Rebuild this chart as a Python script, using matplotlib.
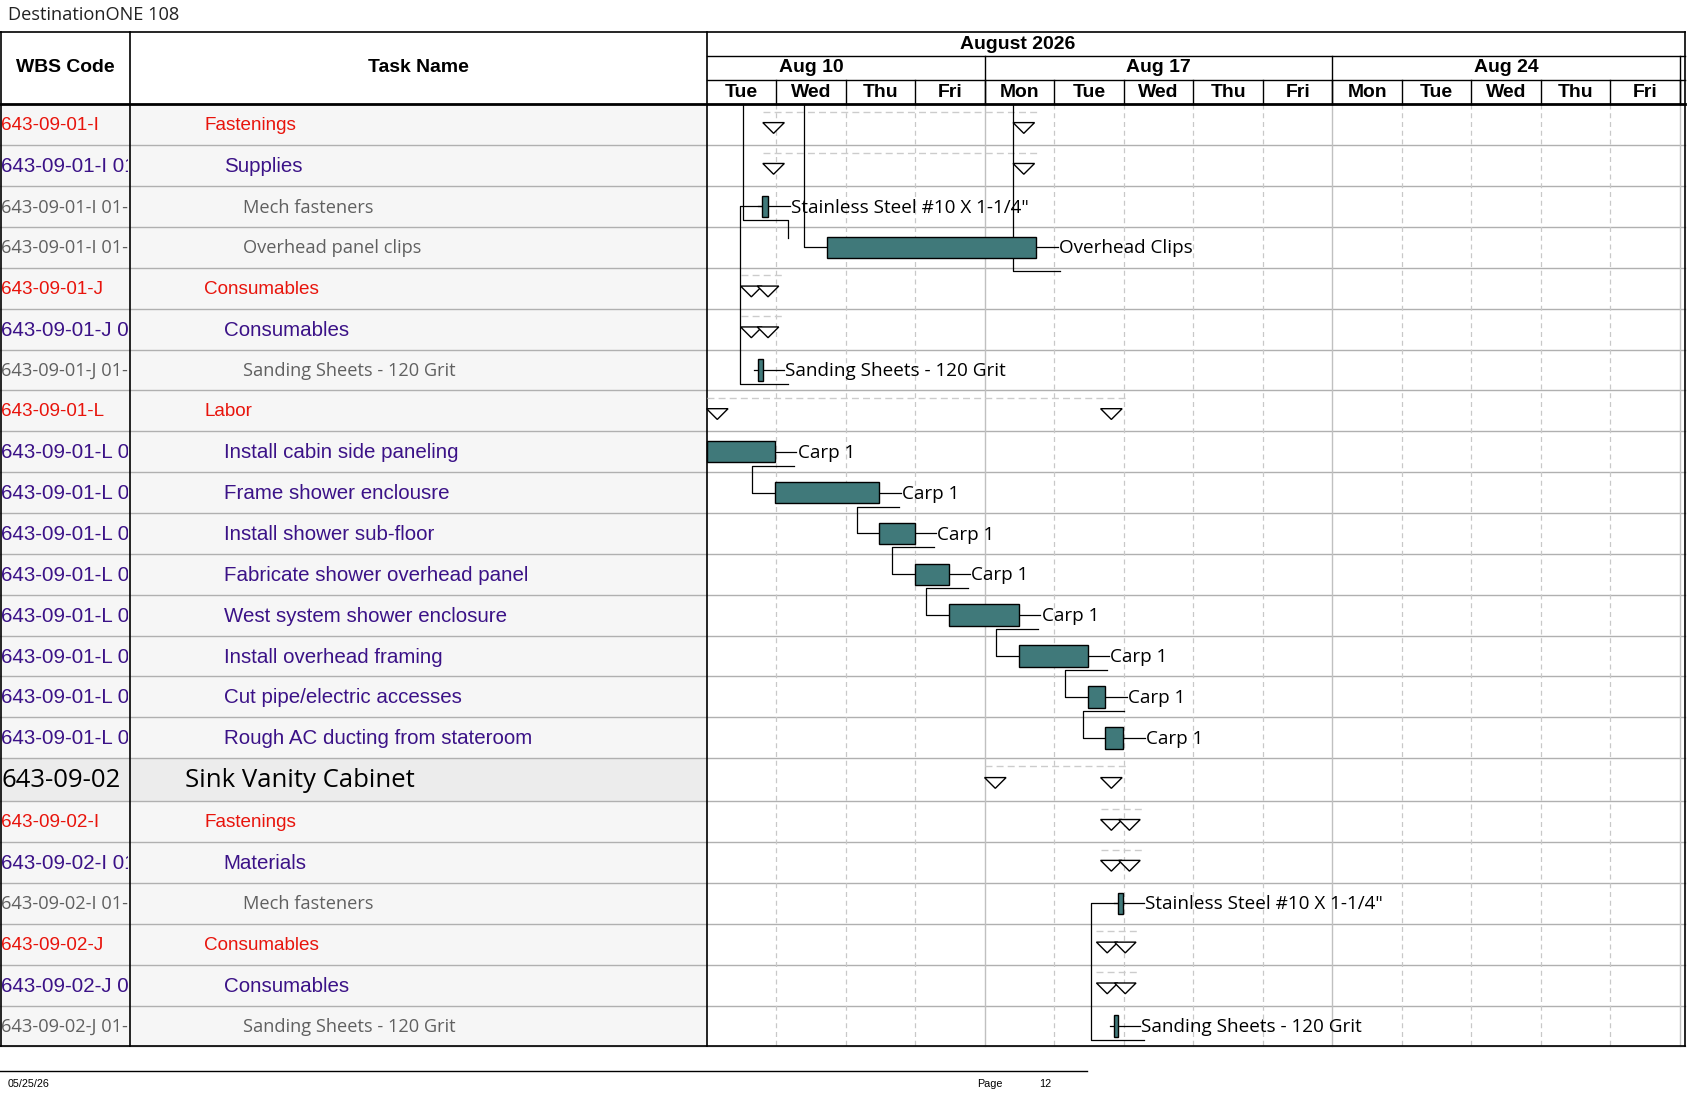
import matplotlib
matplotlib.use("Agg")
import matplotlib.pyplot as plt
from matplotlib.patches import Rectangle, Polygon
from matplotlib.transforms import Bbox, TransformedBbox

# ---------------- data ----------------
wbs = ["643-09-01-I", "643-09-01-I 01", "643-09-01-I 01-01", "643-09-01-I 01-02",
       "643-09-01-J", "643-09-01-J 01", "643-09-01-J 01-01", "643-09-01-L",
       "643-09-01-L 01", "643-09-01-L 02", "643-09-01-L 03", "643-09-01-L 04",
       "643-09-01-L 05", "643-09-01-L 06", "643-09-01-L 07", "643-09-01-L 08",
       "643-09-02", "643-09-02-I", "643-09-02-I 01", "643-09-02-I 01-01",
       "643-09-02-J", "643-09-02-J 01", "643-09-02-J 01-01"]
names = ["Fastenings", "Supplies", "Mech fasteners", "Overhead panel clips",
         "Consumables", "Consumables", "Sanding Sheets - 120 Grit", "Labor",
         "Install cabin side paneling", "Frame shower enclousre", "Install shower sub-floor",
         "Fabricate shower overhead panel", "West system shower enclosure",
         "Install overhead framing", "Cut pipe/electric accesses", "Rough AC ducting from stateroom",
         "Sink Vanity Cabinet", "Fastenings", "Materials", "Mech fasteners",
         "Consumables", "Consumables", "Sanding Sheets - 120 Grit"]
levels = [1, 2, 3, 3, 1, 2, 3, 1, 2, 2, 2, 2, 2, 2, 2, 2, 0, 1, 2, 3, 1, 2, 3]
# start / finish in working days from Tue Aug 11 (summary rows: triangle positions)
starts = [0.96, 0.96, 0.80, 1.73, 0.64, 0.64, 0.74, 0.15, 0.00, 0.98, 2.48, 2.99, 3.48,
          4.49, 5.48, 5.73, 4.15, 5.82, 5.82, 5.92, 5.76, 5.76, 5.86]
finishes = [4.56, 4.56, 0.88, 4.74, 0.88, 0.88, 0.80, 5.82, 0.98, 2.48, 2.99, 3.48, 4.49,
            5.48, 5.73, 5.99, 5.82, 6.08, 6.08, 5.98, 6.02, 6.02, 5.92]
is_summary = [True, True, False, False, True, True, False, True, False, False, False, False,
              False, False, False, False, True, True, True, False, True, True, False]
bar_labels = ["", "", "Stainless Steel #10 X 1-1/4\"", "Overhead Clips", "", "",
              "Sanding Sheets - 120 Grit", "", "Carp 1", "Carp 1", "Carp 1", "Carp 1",
              "Carp 1", "Carp 1", "Carp 1", "Carp 1", "", "", "",
              "Stainless Steel #10 X 1-1/4\"", "", "", "Sanding Sheets - 120 Grit"]
labor_chain = [8, 9, 10, 11, 12, 13, 14, 15]
days = ["Tue", "Wed", "Thu", "Fri", "Mon", "Tue", "Wed", "Thu", "Fri",
        "Mon", "Tue", "Wed", "Thu", "Fri"]
weeks = [("Aug 10", -1, 4), ("Aug 17", 4, 9), ("Aug 24", 9, 14)]
month = "August 2026"

# ---------------- layout (display units) ----------------
W, H = 1568, 1020
fig = plt.figure(figsize=(16.87, 10.97), dpi=100)
ax = fig.add_axes([0, 0, 1, 1])
ax.set_xlim(0, W); ax.set_ylim(H, 0); ax.axis("off")
PT = 1.076 * 0.72

X0, DW = 657, 64.6
def dx(d): return X0 + d * DW

row_h = [38] * len(names)
row_h[16] = 40
tops = [97]
for h in row_h: tops.append(tops[-1] + h)
bottom = tops[-1]

ARIAL = "Liberation Sans"
CAL = ["Open Sans", "DejaVu Sans"]
TEAL = "#40797a"
RED = "#e8140c"; INDIGO = "#3b1287"; GREY = "#606060"

ax.text(7, 14, "DestinationONE 108", fontsize=17 * PT, family=CAL, va="center", color="#222")

for i in range(len(names)):
    bg = "#ececec" if levels[i] == 0 else "#f6f6f6"
    ax.add_patch(Rectangle((0, tops[i]), 657, row_h[i], fc=bg, ec="none"))
    ax.plot([0, W - 2], [tops[i + 1]] * 2, color="#b0b0b0", lw=1)
for k in range(1, 15):
    x = dx(k)
    if days[k - 1] == "Fri" or k == 14:
        ax.plot([x, x], [97, bottom], color="#c0c0c0", lw=1)
    else:
        ax.plot([x, x], [97, bottom], color="#c8c8c8", lw=0.9, ls=(0, (4, 3)))

# header
ax.plot([0, W - 2], [30, 30], color="black", lw=1.2)
ax.plot([X0, W - 2], [52, 52], color="black", lw=1)
ax.plot([X0, W - 2], [74, 74], color="black", lw=1)
ax.plot([0, W - 2], [97, 97], color="black", lw=2)
for x in [1, 121, X0]:
    ax.plot([x, x], [30, bottom], color="black", lw=1.2)
ax.plot([W - 2, W - 2], [30, bottom], color="black", lw=1.2)
ax.plot([0, W - 2], [bottom, bottom], color="black", lw=1.2)
HF = 18 * PT
ax.text(61, 63, "WBS Code", fontsize=HF, weight="bold", family=ARIAL, ha="center", va="center")
ax.text(389, 63, "Task Name", fontsize=HF, weight="bold", family=ARIAL, ha="center", va="center")
ax.text(946, 41, month, fontsize=HF, weight="bold", family=ARIAL, ha="center", va="center")
for lab, a, b in weeks:
    ax.text((dx(a) + dx(b)) / 2, 63, lab, fontsize=HF, weight="bold", family=ARIAL, ha="center", va="center")
    ax.plot([dx(b), dx(b)], [52, 97], color="black", lw=1)
for k, d in enumerate(days):
    ax.text(dx(k + 0.5), 86, d, fontsize=HF, weight="bold", family=ARIAL, ha="center", va="center")
    ax.plot([dx(k + 1), dx(k + 1)], [74, 97], color="black", lw=1)

# left table text
clipbox = TransformedBbox(Bbox.from_extents(0, 97, 119, bottom), ax.transData)
for i in range(len(names)):
    yc = (tops[i] + tops[i + 1]) / 2 + 1
    lv = levels[i]
    col = {0: "black", 1: RED, 2: INDIGO, 3: GREY}[lv]
    fam = CAL if lv in (0, 3) else ARIAL
    fs = {0: 24, 1: 17.5, 2: 19, 3: 17}[lv] * PT
    t = ax.text(1, yc, wbs[i], fontsize=fs, color=col, family=fam, va="center")
    t.set_clip_box(clipbox)
    t.set_clip_on(True)
    xi = {0: 172, 1: 190, 2: 208, 3: 226}[lv]
    ax.text(xi, yc, names[i], fontsize=fs, color=col, family=fam, va="center")

def tri(x, y, s=10):
    ax.add_patch(Polygon([(x - s, y - 5), (x + s, y - 5), (x, y + 5)], closed=True,
                         fc="white", ec="black", lw=1, zorder=4))

for i in range(len(names)):
    yt, yb = tops[i], tops[i + 1]
    yc = (yt + yb) / 2
    xs, xe = dx(starts[i]), dx(finishes[i])
    if is_summary[i]:
        ax.plot([xs - 10, xe + 14], [yt + 7, yt + 7], color="#cccccc", lw=1, ls=(0, (5, 3)))
        tri(xs, yc + 3); tri(xe, yc + 3)
    else:
        w = xe - xs
        ax.add_patch(Rectangle((xs, yc - 10), max(w, 4), 20, fc=TEAL, ec="black", lw=1, zorder=4))
        if bar_labels[i]:
            xl = max(xe, xs + 4)
            ax.plot([xl, xl + 20], [yc, yc], color="black", lw=0.9)
            ax.text(xl + 21, yc + 1, bar_labels[i], fontsize=17.5 * PT, family=CAL, va="center")
            if w < 8:
                ax.plot([xs - 4, xs], [yc, yc], color="black", lw=0.9)

for a, b in zip(labor_chain[:-1], labor_chain[1:]):
    xe = dx(finishes[a]); xv = xe - 21
    yb = tops[a + 1] - 6
    ycb = (tops[b] + tops[b + 1]) / 2
    ax.plot([xe + 18, xv, xv, dx(starts[b])], [yb, yb, ycb, ycb], color="black", lw=0.9, zorder=3)

def bracket(r0, r1, d, d_end):
    x = dx(d); y0 = (tops[r0] + tops[r0 + 1]) / 2; y1 = tops[r1 + 1] - 6
    ax.plot([dx(d_end), x, x, dx(d_end) + 24], [y0, y0, y1, y1], color="black", lw=0.9, zorder=3)
bracket(2, 6, 0.47, 0.80)
bracket(19, 22, 5.53, 5.92)
ax.plot([dx(0.52)] * 2 + [dx(1.17)] * 2, [97, tops[3] - 6, tops[3] - 6, tops[3] + 10], color="black", lw=0.9)
ax.plot([dx(1.40)] * 2 + [dx(1.73)], [97, (tops[3] + tops[4]) / 2, (tops[3] + tops[4]) / 2], color="black", lw=0.9)
ax.plot([dx(4.40)] * 2 + [dx(5.08)], [97, tops[4] + 3, tops[4] + 3], color="black", lw=0.9)

ax.plot([0, 1010], [996, 996], color="black", lw=1)
ax.text(7, 1008, "05/25/26", fontsize=10 * PT, family=ARIAL, va="center")
ax.text(908, 1008, "Page", fontsize=10 * PT, family=ARIAL, va="center")
ax.text(966, 1008, "12", fontsize=10 * PT, family=ARIAL, va="center")

fig.savefig("out.png", dpi=100)
